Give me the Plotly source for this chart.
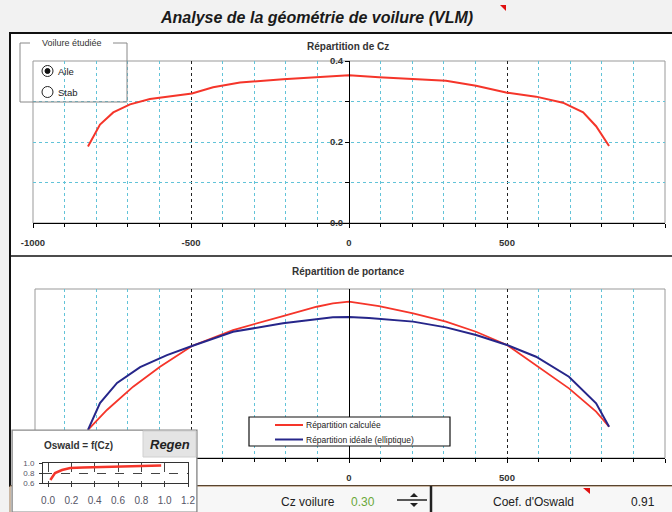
import plotly.graph_objects as go

W, H = 672, 512
def fx(p): return p / W
def fy(p): return 1 - p / H

# ---------------- data ----------------
span_cz = [-826, -788, -746, -693, -630, -557, -497, -430, -345, -209, -51, 0,
           95, 203, 307, 402, 497, 592, 677, 741, 782, 823]
cz_local = [0.189, 0.243, 0.273, 0.293, 0.306, 0.314, 0.320, 0.335, 0.347, 0.355, 0.362, 0.365,
            0.360, 0.355, 0.351, 0.339, 0.322, 0.312, 0.297, 0.273, 0.239, 0.190]

span_calc = [-826, -766, -683, -598, -497, -367, -209, -102, -51, 0,
             95, 203, 307, 402, 500, 592, 696, 782, 823]
lift_calc = [0.166, 0.284, 0.422, 0.540, 0.663, 0.757, 0.840, 0.895, 0.915, 0.925,
             0.899, 0.856, 0.807, 0.747, 0.669, 0.550, 0.412, 0.274, 0.185]

span_ell = [-826, -788, -734, -661, -576, -497, -367, -209, -51, 0,
            63, 203, 307, 402, 500, 592, 696, 782, 823]
lift_ell = [0.166, 0.325, 0.444, 0.538, 0.609, 0.663, 0.747, 0.797, 0.833, 0.834,
            0.828, 0.807, 0.773, 0.728, 0.669, 0.599, 0.481, 0.324, 0.185]

osw_cz = [0.02, 0.06, 0.12, 0.19, 0.30, 0.45, 0.70, 0.97]
osw_e = [0.66, 0.80, 0.86, 0.90, 0.91, 0.92, 0.94, 0.95]

span_ticks = [-1000, -500, 0, 500, 1000]
span_ticklabels = ["-1000", "-500", "0", "500", "1000"]
# lower chart: the two left labels are hidden behind the Oswald panel
span_ticklabels_low = ["", "", "0", "500", "1000"]
cz_ticks = [0.0, 0.1, 0.2, 0.3, 0.4]
cz_ticklabels = ["0.0", "", "0.2", "", "0.4"]

legend_names = ["Répartition calculée", "Répartition idéale (elliptique)"]
cz_voilure = "0.30"
coef_oswald = "0.91"

RED = "#f5352a"
BLUE = "#26268a"
CYAN = "#62c3d8"
FONT = "Liberation Sans"
TICKFONT = dict(family=FONT, size=9.5, color="#333", weight="bold")

fig = go.Figure()

fig.add_trace(go.Scatter(x=span_cz, y=cz_local, mode="lines", xaxis="x", yaxis="y",
                         line=dict(color=RED, width=2), showlegend=False, hoverinfo="skip"))
fig.add_trace(go.Scatter(x=span_calc, y=lift_calc, mode="lines", xaxis="x2", yaxis="y2",
                         name=legend_names[0], line=dict(color=RED, width=1.8), showlegend=False))
fig.add_trace(go.Scatter(x=span_ell, y=lift_ell, mode="lines", xaxis="x2", yaxis="y2",
                         name=legend_names[1], line=dict(color=BLUE, width=2), showlegend=False))
# inset background panel
fig.add_trace(go.Scatter(x=[0, 1, 1, 0, 0], y=[0, 0, 1, 1, 0], mode="lines", fill="toself",
                         fillcolor="white", line=dict(color="#8a8a8a", width=1),
                         xaxis="x3", yaxis="y3", showlegend=False, hoverinfo="skip"))
fig.add_trace(go.Scatter(x=osw_cz, y=osw_e, mode="lines", xaxis="x4", yaxis="y4",
                         line=dict(color=RED, width=2.5), showlegend=False, hoverinfo="skip"))

def span_axis(dom_y_anchor, labels):
    return dict(domain=[fx(33), fx(665)], range=[-1000, 1000], anchor=dom_y_anchor,
                showline=True, linecolor="black", linewidth=1,
                ticks="outside", ticklen=4, tickcolor="black",
                tickvals=span_ticks, ticktext=labels,
                showgrid=True, gridcolor="#222", griddash="dot", gridwidth=1,
                minor=dict(tickvals=list(range(-900, 1000, 100)), ticks="outside", ticklen=3,
                           tickcolor="black", showgrid=True, gridcolor=CYAN,
                           griddash="dot", gridwidth=1),
                zeroline=False, tickfont=TICKFONT, ticklabelstandoff=7, fixedrange=True,
                automargin=False)

layout = dict(
    width=W, height=H, margin=dict(l=0, r=0, t=0, b=0, autoexpand=False),
    paper_bgcolor="#f2f2f2", plot_bgcolor="rgba(0,0,0,0)",
    xaxis=span_axis("y", span_ticklabels),
    yaxis=dict(domain=[fy(223), fy(61)], range=[0, 0.4], anchor="free", position=fx(349),
               showline=True, linecolor="black", linewidth=1, ticks="outside", ticklen=4,
               tickcolor="black", tickvals=cz_ticks, ticktext=cz_ticklabels,
               showgrid=True, gridcolor=CYAN, griddash="dot", gridwidth=1, zeroline=False,
               tickfont=TICKFONT, ticklabelstandoff=0, fixedrange=True, automargin=False),
    xaxis2=span_axis("y2", span_ticklabels_low),
    yaxis2=dict(domain=[fy(458), fy(289)], range=[0, 1], anchor="free", position=fx(349),
                showline=True, linecolor="black", linewidth=1, ticks="", showticklabels=False,
                showgrid=False, zeroline=False, fixedrange=True, automargin=False),
    xaxis3=dict(domain=[fx(12), fx(197)], range=[0, 1], visible=False, anchor="y3",
                fixedrange=True, automargin=False),
    yaxis3=dict(domain=[0, fy(430)], range=[0, 1], visible=False, anchor="x3",
                fixedrange=True, automargin=False),
    xaxis4=dict(domain=[fx(43), fx(188)], range=[-0.043, 1.2], anchor="y4",
                showline=True, linecolor="#333", mirror=True, ticks="outside", ticklen=3,
                tickcolor="#333", dtick=0.2, tick0=0, tickformat=".1f",
                showgrid=True, gridcolor="#444", griddash="dash", gridwidth=1, zeroline=False,
                tickfont=dict(family=FONT, size=10, color="#556"), ticklabelstandoff=5,
                fixedrange=True, automargin=False),
    yaxis4=dict(domain=[fy(483), fy(463)], range=[0.6, 1.0], anchor="x4",
                showline=True, linecolor="#333", mirror=True, ticks="outside", ticklen=3,
                tickcolor="#333", tickvals=[0.6, 0.8, 1.0], tickformat=".1f",
                showgrid=True, gridcolor="#444", griddash="dash", gridwidth=1, zeroline=False,
                tickfont=dict(family=FONT, size=8, color="#556"), ticklabelstandoff=3,
                fixedrange=True, automargin=False),
    showlegend=False,
)
fig.update_layout(**layout)

shapes = []
def rect(x0, y0, x1, y1, **kw):
    d = dict(type="rect", xref="paper", yref="paper", x0=fx(x0), x1=fx(x1), y0=fy(y1), y1=fy(y0))
    d.update(kw)
    shapes.append(d)
def line(x0, y0, x1, y1, **kw):
    d = dict(type="line", xref="paper", yref="paper", x0=fx(x0), x1=fx(x1), y0=fy(y0), y1=fy(y1))
    d.update(kw)
    shapes.append(d)

# outer panel
rect(10, 33, 690, 486, fillcolor="white", line=dict(color="#111", width=2), layer="below")
rect(10, 486, 690, 520, fillcolor="#f7f7f7", line=dict(color="#a07850", width=1), layer="below")
line(10, 256, 672, 256, line=dict(color="#111", width=1.5), layer="below")
# plot frames
rect(33, 61, 665, 223, line=dict(color="#999", width=1), layer="below")
rect(35, 289, 665, 458, line=dict(color="#999", width=1), layer="below")
# group box "Voilure étudiée"
gb = dict(color="#888", width=1)
line(20, 43, 20, 102, line=gb); line(20, 102, 127, 102, line=gb); line(127, 43, 127, 102, line=gb)
line(20, 43, 30, 43, line=gb); line(113, 43, 127, 43, line=gb)
# radio buttons
shapes.append(dict(type="circle", xref="paper", yref="paper", x0=fx(42), x1=fx(53), y0=fy(76.5), y1=fy(65.5),
                   line=dict(color="#222", width=1), fillcolor="white"))
shapes.append(dict(type="circle", xref="paper", yref="paper", x0=fx(45), x1=fx(50), y0=fy(73.5), y1=fy(68.5),
                   line=dict(color="#111", width=1), fillcolor="#111"))
shapes.append(dict(type="circle", xref="paper", yref="paper", x0=fx(42), x1=fx(53), y0=fy(97.5), y1=fy(86.5),
                   line=dict(color="#222", width=1), fillcolor="white"))
# legend box of the lift chart
rect(249, 417, 450, 446, fillcolor="white", line=dict(color="#111", width=1.2))
line(275, 425, 303, 425, line=dict(color=RED, width=2))
line(275, 439.5, 303, 439.5, line=dict(color=BLUE, width=2))
# inset border + Regen button
rect(12, 430, 197, 515, line=dict(color="#8a8a8a", width=1.2))
rect(143, 431, 196, 457, fillcolor="#e4e4e4", line=dict(color="#d0d0d0", width=1))
# status bar widgets
line(397, 500, 427, 500, line=dict(color="#222", width=1.5))
shapes.append(dict(type="path", xref="paper", yref="paper",
                   path=f"M {fx(410)} {fy(497)} L {fx(418)} {fy(497)} L {fx(414)} {fy(493)} Z",
                   fillcolor="#222", line=dict(width=0)))
shapes.append(dict(type="path", xref="paper", yref="paper",
                   path=f"M {fx(410)} {fy(503)} L {fx(418)} {fy(503)} L {fx(414)} {fy(507)} Z",
                   fillcolor="#222", line=dict(width=0)))
line(431, 486, 431, 512, line=dict(color="#222", width=2.5))
# comment markers
shapes.append(dict(type="path", xref="paper", yref="paper",
                   path=f"M {fx(500)} {fy(5)} L {fx(506)} {fy(5)} L {fx(506)} {fy(11)} Z",
                   fillcolor="#e01010", line=dict(width=0)))
shapes.append(dict(type="path", xref="paper", yref="paper",
                   path=f"M {fx(583)} {fy(488)} L {fx(590)} {fy(488)} L {fx(590)} {fy(494)} Z",
                   fillcolor="#e01010", line=dict(width=0)))

ann = []
def text(x, y, s, size, color="#222", xanchor="center", bold=False, italic=False, family=FONT):
    if bold:
        s = f"<b>{s}</b>"
    if italic:
        s = f"<i>{s}</i>"
    ann.append(dict(x=fx(x), y=fy(y), xref="paper", yref="paper", text=s, showarrow=False,
                    xanchor=xanchor, yanchor="middle", font=dict(family=family, size=size, color=color)))

text(316, 17, "Analyse de la géométrie de voilure (VLM)", 16, color="#1a1a1a", bold=True, italic=True)
text(348, 46, "Répartition de Cz", 10, color="#333", bold=True)
text(348, 271, "Répartition de portance", 10, color="#333", bold=True)
text(72, 43, "Voilure étudiée", 9, color="#333")
text(56, 71, "Aile", 9.5, color="#222", xanchor="left")
text(56, 92, "Stab", 9.5, color="#222", xanchor="left")
text(304, 425, legend_names[0], 8.5, color="#222", xanchor="left")
text(304, 439.5, legend_names[1], 8.5, color="#222", xanchor="left")
text(78, 445, "Oswald = f(Cz)", 10, color="#333", bold=True)
text(170, 444, "Regen", 13, color="#222", bold=True, italic=True)
text(308, 502, "Cz voilure", 12, color="#222")
text(363, 502, cz_voilure, 12, color="#6aa83a")
text(533, 502, "Coef. d'Oswald", 12, color="#222")
text(643, 502, coef_oswald, 12, color="#222")

fig.update_layout(shapes=shapes, annotations=ann)
fig.write_html("out.html")
